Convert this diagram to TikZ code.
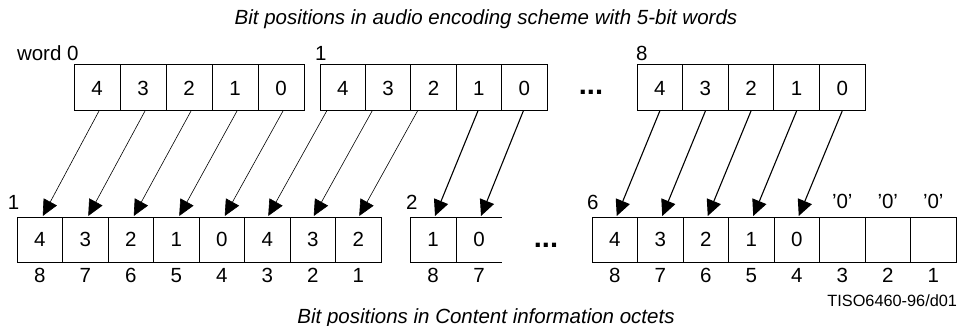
\documentclass[tikz,border=0pt]{standalone}
\usepackage{fontspec}
\setmainfont{Liberation Sans}
\usetikzlibrary{arrows.meta}
\tikzset{
  bitcell/.style={draw,line width=1pt,inner sep=0pt,outer sep=0pt,font=\fontsize{20.5}{20.5}\selectfont},
  txt/.style={inner sep=0pt,outer sep=0pt,font=\fontsize{20.5}{20.5}\selectfont},
  caption/.style={inner sep=0pt,anchor=base,font=\fontsize{20.5}{20.5}\selectfont\itshape},
  dots/.style={inner sep=0pt,font=\fontsize{29}{29}\selectfont\bfseries},
  thinarrow/.style={-{Triangle[length=16pt,width=15pt]},line width=0.6pt},
  boldarrow/.style={-{Triangle[length=16pt,width=15pt]},line width=1.1pt}
}
\begin{document}
\begin{tikzpicture}[x=1pt,y=-1pt]
\useasboundingbox (0,0) rectangle (959,326);
\node[caption] (toptitle) at (486,25) {Bit positions in audio encoding scheme with 5-bit words};
\node[caption] (bottitle) at (486,323) {Bit positions in Content information octets};
\node[txt,anchor=base east,font=\fontsize{16.3}{16.3}\selectfont] (figid) at (957,306.5) {TISO6460-96/d01};
% 5-bit words
\foreach \b [count=\i] in {4,3,2,1,0} {
  \node[bitcell,minimum width=46pt,minimum height=46pt] (wA\i) at ({74+46*(\i-0.5)},88) {\b};
  \node[bitcell,minimum width=45.4pt,minimum height=46pt] (wB\i) at ({320+45.4*(\i-0.5)},88) {\b};
  \node[bitcell,minimum width=45.6pt,minimum height=46pt] (wC\i) at ({637+45.6*(\i-0.5)},88) {\b};
}
\node[txt,anchor=base west] (labA) at (17,61) {word 0};
\node[txt,anchor=base west] (labB) at (315,61) {1};
\node[txt,anchor=base west] (labC) at (636,61) {8};
\node[dots,anchor=base] (dotsA) at (591,95) {...};
% octets
\foreach \b [count=\i] in {4,3,2,1,0,4,3,2} {
  \node[bitcell,minimum width=45.5pt,minimum height=45pt] (oA\i) at ({17+45.5*(\i-0.5)},239.5) {\b};
}
\node[bitcell,minimum width=46pt,minimum height=45pt] (oB1) at (433,239.5) {1};
\node[txt,minimum width=46pt,minimum height=45pt] (oB2) at (479,239.5) {0};
\draw[line width=1pt] (oB2.north west) -- (oB2.north east) (oB2.south west) -- (oB2.south east);
\foreach \b [count=\i] in {4,3,2,1,0,{},{},{}} {
  \node[bitcell,minimum width=45.5pt,minimum height=45pt] (oC\i) at ({592+45.5*(\i-0.5)},239.5) {\b};
}
\foreach \i in {6,7,8} \node[txt,anchor=base] (zero\i) at (oC\i |- 0,208) {'0'};
\foreach \n [count=\i] in {8,7,6,5,4,3,2,1} {
  \node[txt,anchor=base] (nA\i) at (oA\i |- 0,282) {\n};
  \node[txt,anchor=base] (nC\i) at (oC\i |- 0,282) {\n};
}
\node[txt,anchor=base] (nB1) at (oB1 |- 0,282) {8};
\node[txt,anchor=base] (nB2) at (oB2 |- 0,282) {7};
\node[txt,anchor=base west] (labD) at (8,210) {1};
\node[txt,anchor=base west] (labE) at (406,210) {2};
\node[txt,anchor=base west] (labF) at (587,210) {6};
\node[dots,anchor=base] (dotsB) at (546,247) {...};
% bit moves
\foreach \i in {1,...,5}
  \draw[thinarrow] ([xshift=2pt]wA\i.south) -- ([xshift=3pt,yshift=1pt]oA\i.north);
\foreach \i/\j in {1/6,2/7,3/8}
  \draw[thinarrow] ([xshift=-16pt]wB\i.south) -- ([xshift=1pt,yshift=1pt]oA\j.north);
\foreach \i/\j in {4/1,5/2}
  \draw[boldarrow] ([xshift=-1pt]wB\i.south) -- ([xshift=2pt,yshift=1pt]oB\j.north);
\foreach \i in {1,...,5}
  \draw[boldarrow] (wC\i.south) -- ([xshift=2pt,yshift=1pt]oC\i.north);
\end{tikzpicture}
\end{document}
